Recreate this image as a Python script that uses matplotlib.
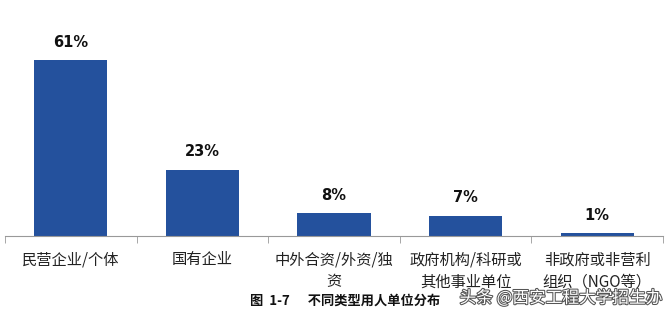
import matplotlib

matplotlib.use("Agg")
import matplotlib.pyplot as plt
import matplotlib.patheffects as pe
import numpy as np

plt.rcParams["font.family"] = ["Noto Sans CJK SC", "DejaVu Sans"]

categories = ["民营企业/个体", "国有企业", "中外合资/外资/独\n资", "政府机构/科研或\n其他事业单位", "非政府或非营利\n组织（NGO等）"]
shares = [61, 23, 8, 7, 1]

fig = plt.figure(figsize=(6.7, 3.15), dpi=100)
ax = fig.add_axes([5 / 670, 79 / 315, 658 / 670, 202 / 315])

x = np.arange(len(categories))
ax.bar(x, shares, width=0.555, color="#24519d", zorder=2)
for xi, v in zip(x, shares):
    ax.text(xi, v + 3.6, f"{v}%", ha="center", va="bottom", fontsize=10.5,
            fontweight="bold", family=["DejaVu Sans"], color="#111111")

ax.set_xlim(-0.5, len(categories) - 0.5)
ax.set_ylim(0, 70)
ax.set_yticks([])
ax.set_xticks(x)
ax.set_xticklabels(categories, fontsize=11, color="#222222", linespacing=1.4)
ax.tick_params(axis="x", length=0, pad=11)
ax.set_xticks(np.arange(len(categories) + 1) - 0.5, minor=True)
ax.tick_params(axis="x", which="minor", length=5, color="#999999")
for side in ["top", "right", "left"]:
    ax.spines[side].set_visible(False)
ax.spines["bottom"].set_color("#999999")

fig.text(0.515, 0.047, "图  1-7      不同类型用人单位分布", ha="center", va="center",
         fontsize=9.5, fontweight="bold", color="#111111")
fig.text(0.988, 0.053, "头条 @西安工程大学招生办", ha="right", va="center", fontsize=12,
         color="white", path_effects=[pe.withStroke(linewidth=1.5, foreground="#555555")])

fig.savefig("out.png", dpi=100)
